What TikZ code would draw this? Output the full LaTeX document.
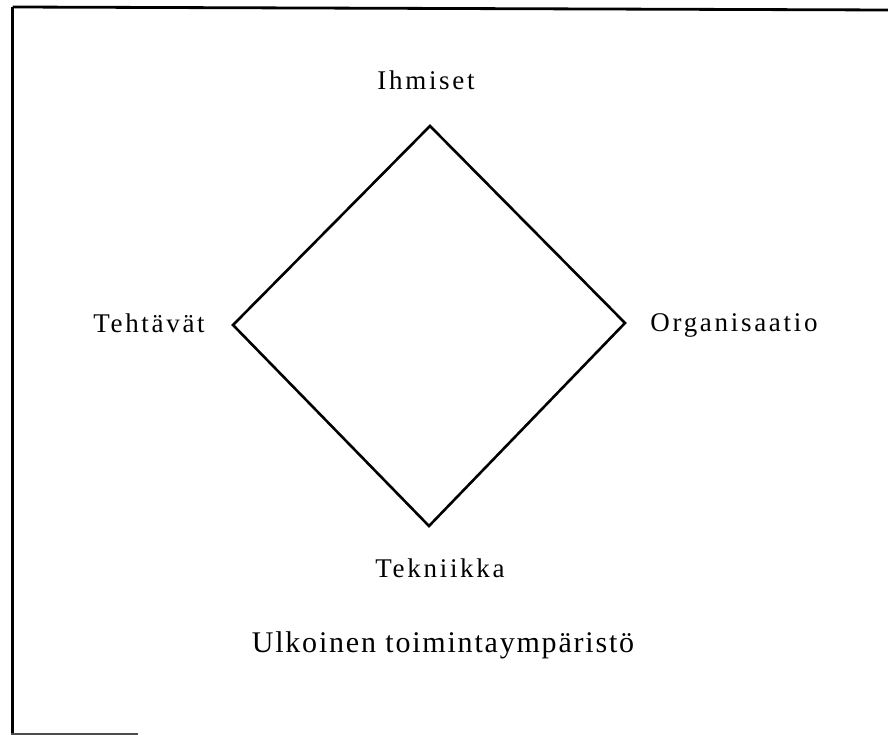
\documentclass[tikz,border=0pt]{standalone}
\usepackage{fontspec}
\setmainfont{Liberation Serif}
\begin{document}
\begin{tikzpicture}[x=1pt,y=-1pt,
  label/.style={inner sep=0pt, anchor=base, font=\fontsize{27}{30}\selectfont\addfontfeature{LetterSpace=10}},
  caption/.style={inner sep=0pt, anchor=base, font=\fontsize{30}{33}\selectfont\addfontfeature{LetterSpace=6}},
  edge/.style={line width=2.6pt, line join=miter},
  frame/.style={line width=2.8pt}]
\useasboundingbox (0,0) rectangle (888,735);

% outer frame (open on the right)
\draw[frame] (12.5,7) -- (888,10);
\draw[frame] (12.5,7) -- (12.5,735);
\draw[frame, black!70, line width=2pt] (11,733.5) -- (138,733.5);

% corners of the square
\coordinate (top) at (430,126);
\coordinate (left) at (233,325);
\coordinate (right) at (625,323);
\coordinate (bottom) at (429,526);
\draw[edge] (top) -- (right) -- (bottom) -- (left) -- cycle;

% corner labels
\node[label] (ihmiset) at (426,90) {Ihmiset};
\node[label] (tehtavat) at (149,332) {Tehtävät};
\node[label] (organisaatio) at (734,331) {Organisaatio};
\node[label] (tekniikka) at (440,577) {Tekniikka};
\node[caption] (ymparisto) at (443,652) {Ulkoinen toimintaympäristö};
\end{tikzpicture}
\end{document}
